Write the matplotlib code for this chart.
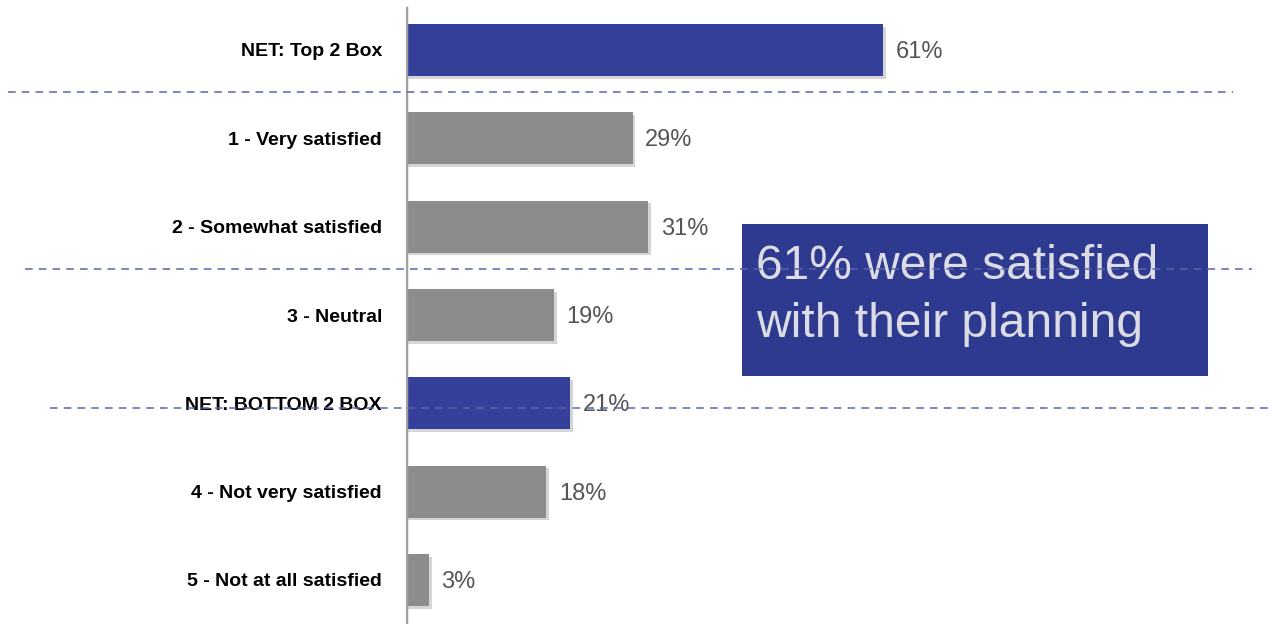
import matplotlib
matplotlib.use("Agg")
import matplotlib.pyplot as plt
import matplotlib.patheffects as pe
from matplotlib.lines import Line2D
from matplotlib.patches import Rectangle

plt.rcParams['font.family'] = ['Liberation Sans', 'DejaVu Sans']

# data
categories = ["NET: Top 2 Box", "1 - Very satisfied", "2 - Somewhat satisfied", "3 - Neutral",
              "NET: BOTTOM 2 BOX", "4 - Not very satisfied", "5 - Not at all satisfied"]
values = [61, 29, 31, 19, 21, 18, 3]
is_net = [True, False, False, False, True, False, False]
callout = "61% were satisfied\nwith their planning"

W, H = 1271, 624
fig = plt.figure(figsize=(W / 100, H / 100), dpi=100)

# axes: x=0 at px 405.5, 61% at px 883
x0_px = 405.5
scale = (883 - x0_px) / 61
ax = fig.add_axes([x0_px / W, 0, (W - x0_px) / W, 1])
ax.set_xlim(0, (W - x0_px) / scale)
spacing = (580 - 50) / 6
ax.set_ylim(6 + (H - 580) / spacing, -50 / spacing)

blue = "#34409A"
grey = "#8C8C8C"
colors = [blue if n else grey for n in is_net]
ypos = list(range(len(categories)))
bars = ax.barh(ypos, values, height=52 / spacing, color=colors, zorder=2)
for b in bars:
    b.set_path_effects([pe.SimplePatchShadow(offset=(2, -2), shadow_rgbFace="#C4C4C4", alpha=0.7),
                        pe.Normal()])

for y, v in zip(ypos, values):
    ax.annotate(f"{v}%", (v, y), xytext=(9, -1.5), textcoords="offset points",
                va="center", ha="left", fontsize=17, color="#555555", zorder=5)

ax.set_yticks(ypos)
ax.set_yticklabels(categories, fontsize=14, fontweight="bold", color="black")
ax.tick_params(axis="y", length=0, pad=17)
ax.set_xticks([])
for s in ax.spines.values():
    s.set_visible(False)
ax.axvline(0, ymin=0, ymax=(H - 8) / H, color="#A0A0A0", lw=2.5, zorder=3)

# callout box
fig.add_artist(Rectangle((742 / W, 1 - 376 / H), (1208 - 742) / W, (376 - 224) / H,
                         transform=fig.transFigure, facecolor="#2E3A8F", edgecolor="none", zorder=4))
fig.text(756 / W, 1 - 244 / H, callout, fontsize=34.5, color="#DCDCE4", va="top", ha="left",
         linespacing=1.36, zorder=6)

# dashed separators
for y, xa, xb in [(92, 8, 1233), (269, 25, 1252), (408, 50, 1271)]:
    fig.add_artist(Line2D([xa / W, xb / W], [1 - y / H, 1 - y / H], transform=fig.transFigure,
                          color="#5A64AA", lw=1.1, ls=(0, (5, 4)), zorder=10))

fig.savefig("out.png", dpi=100)
